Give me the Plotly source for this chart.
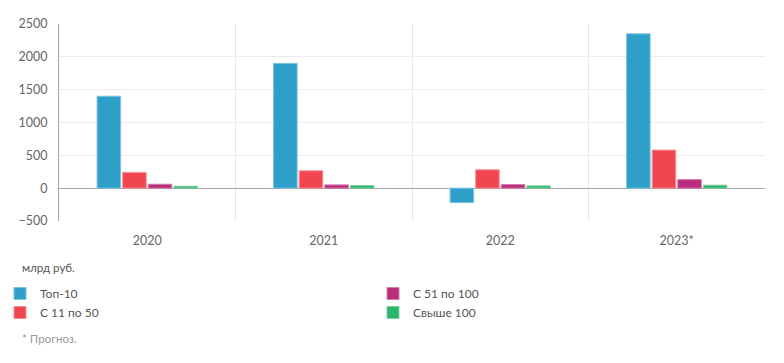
import plotly.graph_objects as go

years = ["2020", "2021", "2022", "2023*"]
top10 = [1400, 1900, -220, 2350]
c11_50 = [240, 265, 280, 580]
c51_100 = [60, 50, 55, 130]
over100 = [30, 40, 35, 45]

names = ["Топ-10", "С 11 по 50", "С 51 по 100", "Свыше 100"]
colors = ["#2e9fc9", "#f1464f", "#b92e7b", "#2db36b"]
lines = ["#7cc3de", "#f79096", "#d27aa9", "#7dd0a3"]
legends = ["legend", "legend", "legend2", "legend2"]
series = [top10, c11_50, c51_100, over100]

fig = go.Figure()
for n, v, c, lc, lg in zip(names, series, colors, lines, legends):
    fig.add_trace(go.Bar(x=years, y=v, name=n, marker=dict(color=c, line=dict(color=lc, width=1)),
                         legend=lg))

font = "Lato, 'Noto Sans', sans-serif"
leg_common = dict(yref="container", y=1 - 279 / 363, yanchor="top", xanchor="left", xref="container",
                  font=dict(size=12, color="#555"), itemwidth=30, tracegroupgap=0,
                  bgcolor="rgba(0,0,0,0)", borderwidth=0)
fig.update_layout(
    width=784, height=363,
    margin=dict(l=59, r=19, t=24, b=142, autoexpand=False),
    paper_bgcolor="white", plot_bgcolor="white",
    font=dict(family=font, size=12, color="#555"),
    barmode="group", bargap=0.42, bargroupgap=0.08,
    showlegend=True,
    legend=dict(x=0, **leg_common),
    legend2=dict(x=373 / 784, **leg_common),
    xaxis=dict(type="category", tickson="boundaries", showgrid=True, gridcolor="#e8e8e8",
               ticks="", tickfont=dict(size=12.5, color="#666"), showline=False,
               ticklabelstandoff=10),
    yaxis=dict(range=[-500, 2500], tickvals=[-500, 0, 500, 1000, 1500, 2000, 2500],
               showgrid=True, gridcolor="#ececec", zeroline=True, zerolinecolor="#a6a6a6",
               zerolinewidth=1, showline=True, linecolor="#a6a6a6", linewidth=1,
               ticks="", tickfont=dict(size=12.5, color="#666"), ticklabelstandoff=8),
)
fig.add_annotation(text="млрд руб.", xref="paper", yref="paper", x=(20 - 59) / 706,
                   y=(221 - 267) / 197, xanchor="left", yanchor="middle", showarrow=False,
                   font=dict(size=11.5, color="#555"))
fig.add_annotation(text="* Прогноз.", xref="paper", yref="paper", x=(20 - 59) / 706,
                   y=(221 - 338) / 197, xanchor="left", yanchor="middle", showarrow=False,
                   font=dict(size=11.5, color="#999"))
fig.write_html("out.html", config={"displayModeBar": False},
               post_script="document.body.style.margin='0px';")
